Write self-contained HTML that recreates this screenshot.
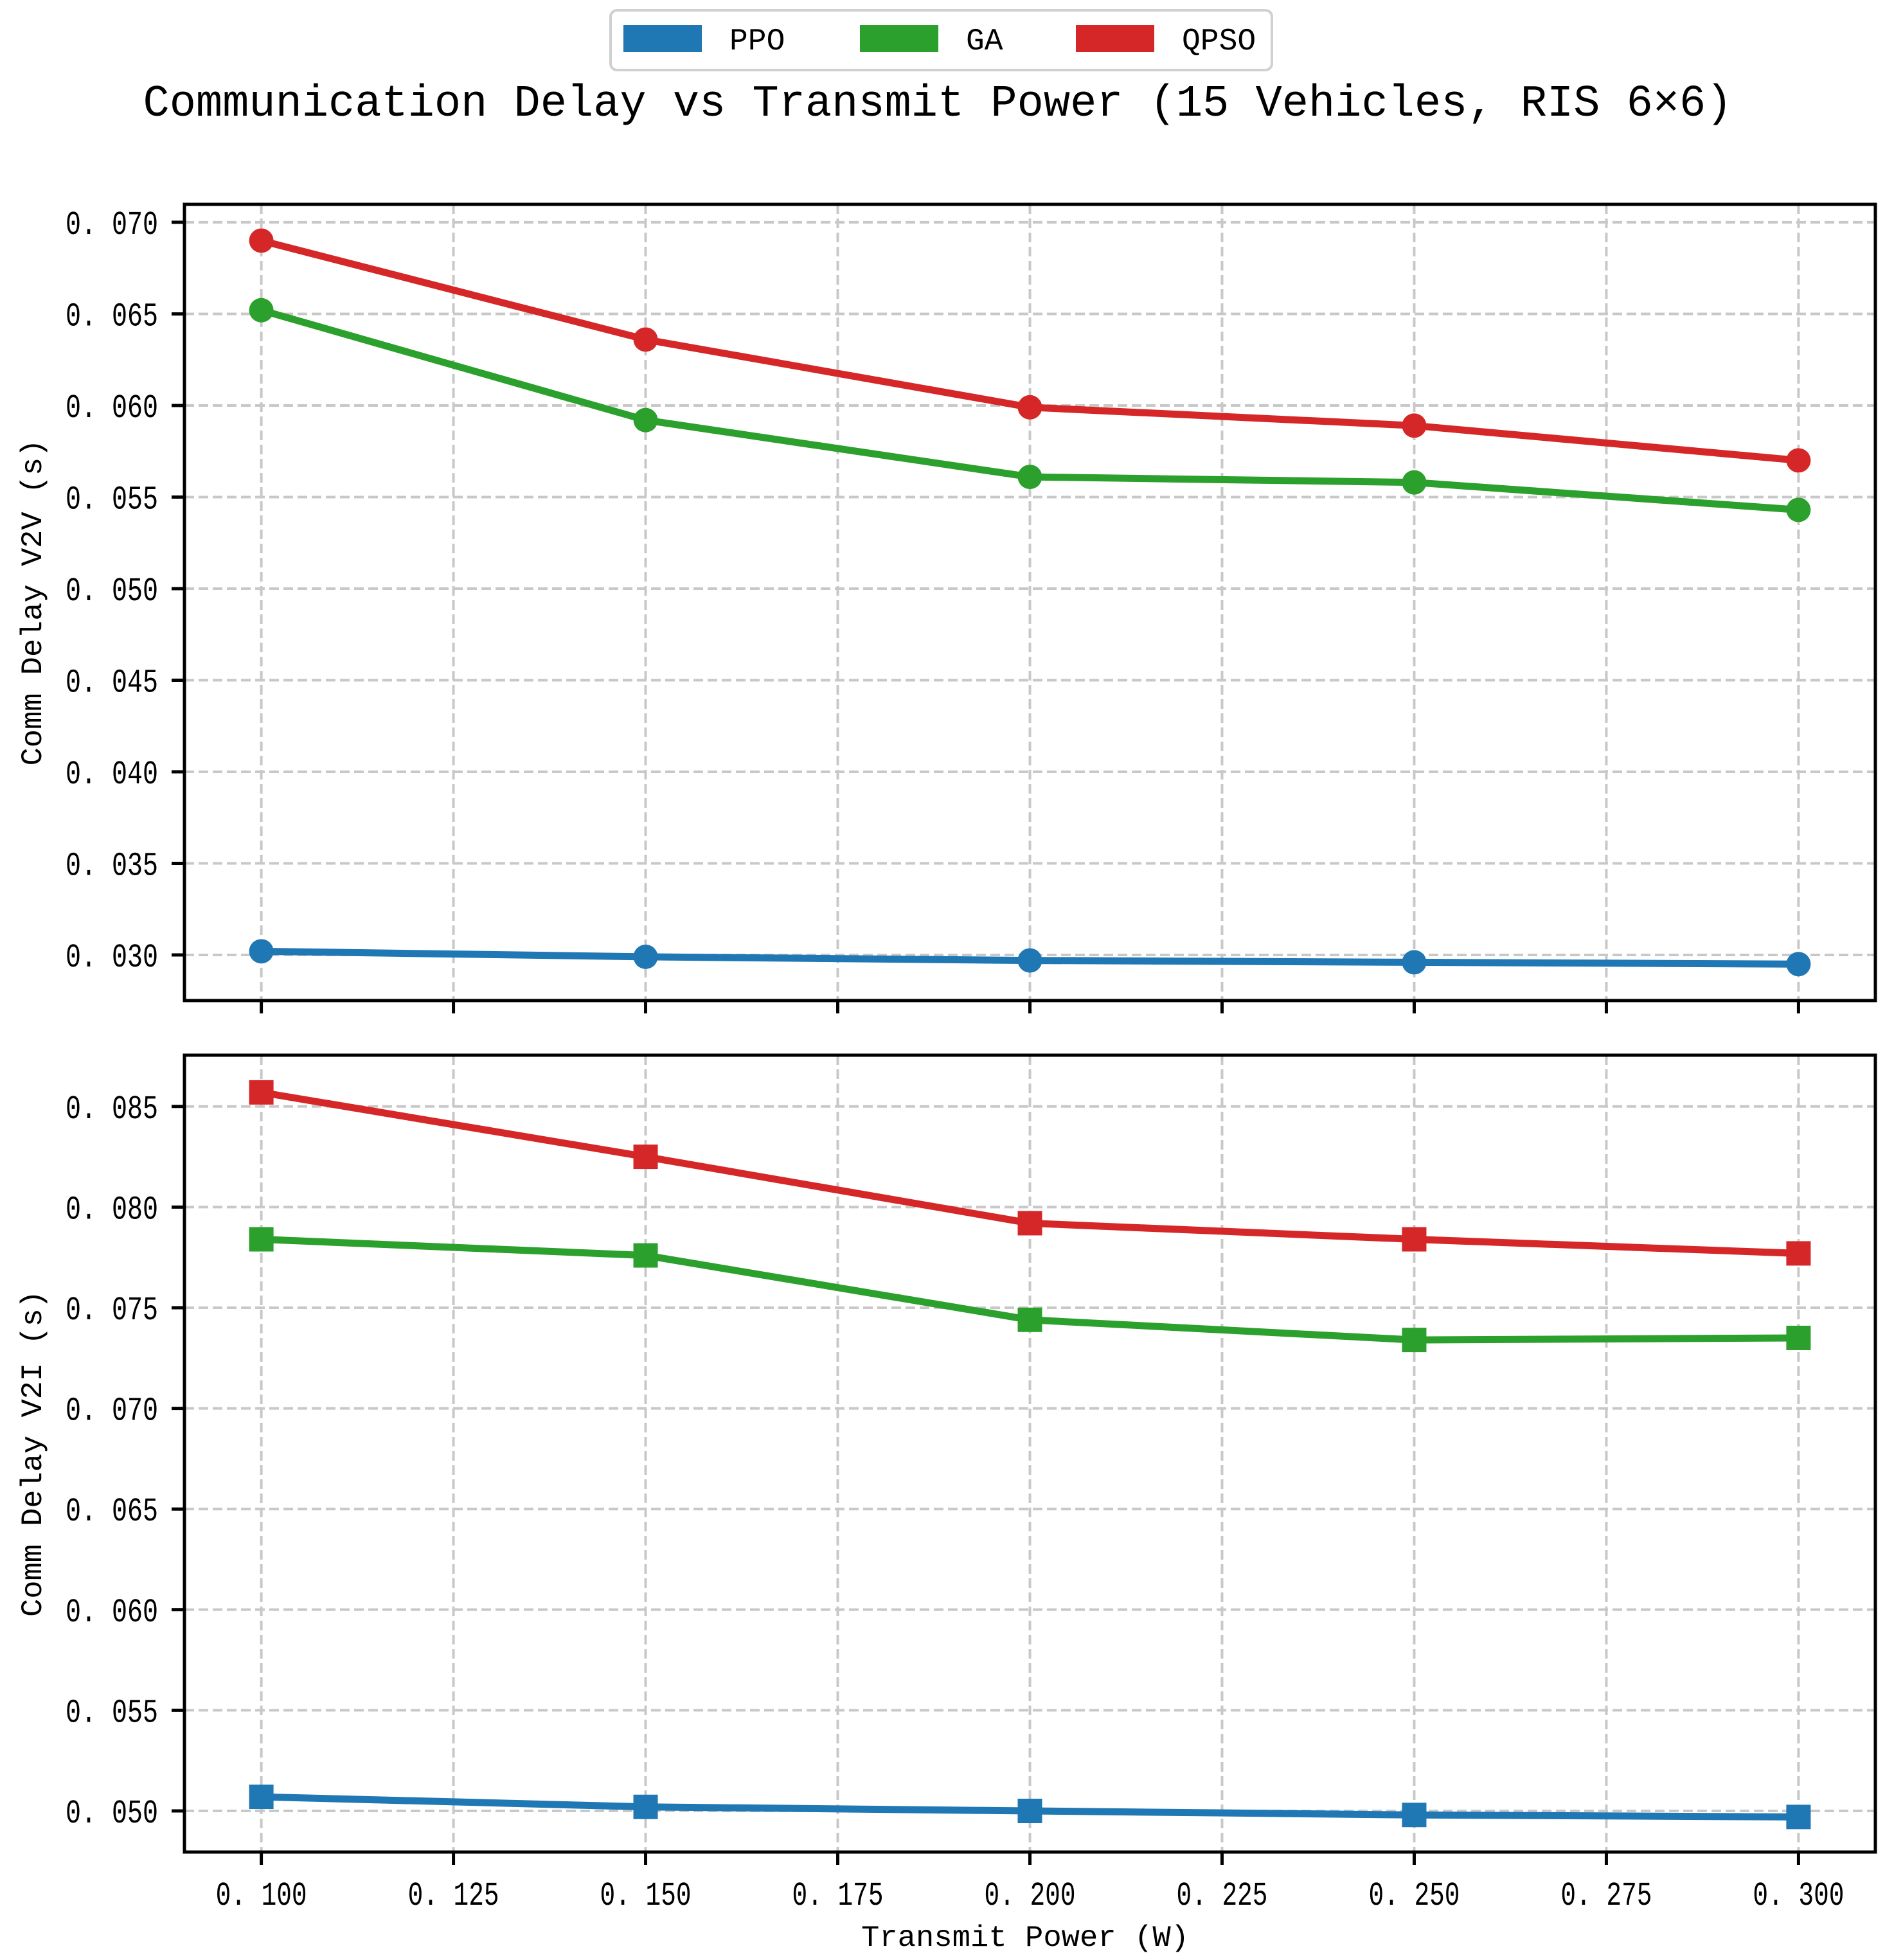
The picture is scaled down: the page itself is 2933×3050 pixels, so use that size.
<!DOCTYPE html>
<html><head><meta charset="utf-8"><style>
html,body{margin:0;padding:0;background:#fff}
svg{display:block}
text{font-family:"Liberation Mono","Noto Sans CJK SC",monospace;fill:#000}
</style></head><body>
<svg id="chart" width="2933" height="3050" viewBox="0 0 2933 3050" xmlns="http://www.w3.org/2000/svg"></svg>
<script>
const xValues=[0.1,0.15,0.2,0.25,0.3];
const xTicks=[0.1,0.125,0.15,0.175,0.2,0.225,0.25,0.275,0.3];
const xTickLabels=["0. 100","0. 125","0. 150","0. 175","0. 200","0. 225","0. 250","0. 275","0. 300"];
const v2vTicks=[0.030,0.035,0.040,0.045,0.050,0.055,0.060,0.065,0.070];
const v2vTickLabels=["0. 030","0. 035","0. 040","0. 045","0. 050","0. 055","0. 060","0. 065","0. 070"];
const v2iTicks=[0.050,0.055,0.060,0.065,0.070,0.075,0.080,0.085];
const v2iTickLabels=["0. 050","0. 055","0. 060","0. 065","0. 070","0. 075","0. 080","0. 085"];
const v2vPPO=[0.0302,0.0299,0.0297,0.0296,0.0295];
const v2vGA=[0.0652,0.0592,0.0561,0.0558,0.0543];
const v2vQPSO=[0.0690,0.0636,0.0599,0.0589,0.0570];
const v2iPPO=[0.0507,0.0502,0.0500,0.0498,0.0497];
const v2iGA=[0.0784,0.0776,0.0744,0.0734,0.0735];
const v2iQPSO=[0.0857,0.0825,0.0792,0.0784,0.0777];
const seriesNames=["PPO","GA","QPSO"];
const colors={PPO:"#1f77b4",GA:"#2ca02c",QPSO:"#d62728"};

const NS="http://www.w3.org/2000/svg";
const svg=document.getElementById('chart');
function mk(tag,attrs,parent){const e=document.createElementNS(NS,tag);for(const k in attrs)e.setAttribute(k,attrs[k]);(parent||svg).appendChild(e);return e;}

const L=287,R=2918;
const xMin=0.09,xMax=0.31;
function xs(v){return L+(v-xMin)/(xMax-xMin)*(R-L);}

function panel(name,top,bottom,yMin,yMax,ticks,tickLabels,data,marker,ylabel,showXLabels){
  const ys=v=>bottom-(v-yMin)/(yMax-yMin)*(bottom-top);
  const g=mk('g',{});
  
  
  xTicks.forEach((t,i)=>{
    const l=mk('line',{x1:xs(t),x2:xs(t),y1:top,y2:bottom,stroke:'#c8c8c8','stroke-width':4,'stroke-dasharray':'15 7'},g);
    
    
    const tk=mk('line',{x1:xs(t),x2:xs(t),y1:bottom,y2:bottom+20,stroke:'#000','stroke-width':5},g);
    
    
    if(showXLabels){
      const tx=mk('text',{x:xs(t),y:2964,'text-anchor':'middle','font-size':52,textLength:142,lengthAdjust:'spacingAndGlyphs'},g);
      tx.textContent=xTickLabels[i];
      
      
    }
  });
  ticks.forEach((t,i)=>{
    const y=ys(t);
    const l=mk('line',{x1:L,x2:R,y1:y,y2:y,stroke:'#c8c8c8','stroke-width':4,'stroke-dasharray':'15 7'},g);
    
    
    const tk=mk('line',{x1:L-20,x2:L,y1:y,y2:y,stroke:'#000','stroke-width':5},g);
    
    
    const tx=mk('text',{x:246,y:y+18,'text-anchor':'end','font-size':52,textLength:144,lengthAdjust:'spacingAndGlyphs'},g);
    tx.textContent=tickLabels[i];
    
    
  });
  seriesNames.forEach(s=>{
    const vals=data[s];
    const pts=vals.map((v,i)=>xs(xValues[i])+','+ys(v)).join(' ');
    const pl=mk('polyline',{points:pts,fill:'none',stroke:colors[s],'stroke-width':11,'stroke-linejoin':'round'},g);
    
    
    vals.forEach((v,i)=>{
      let m;
      if(marker==='circle'){
        m=mk('circle',{cx:xs(xValues[i]),cy:ys(v),r:19,fill:colors[s]},g);
      }else{
        m=mk('rect',{x:xs(xValues[i])-19,y:ys(v)-19,width:38,height:38,fill:colors[s]},g);
      }
      
      
    });
  });
  const fr=mk('rect',{x:L,y:top,width:R-L,height:bottom-top,fill:'none',stroke:'#000','stroke-width':5},g);
  
  
  const cy=(top+bottom)/2;
  const yl=mk('text',{x:0,y:0,'text-anchor':'middle','font-size':46,textLength:508,lengthAdjust:'spacingAndGlyphs',transform:`translate(64,${cy}) rotate(-90)`},g);
  yl.textContent=ylabel;
  
  
}

panel('v2v',318,1557,0.02751,0.07098,v2vTicks,v2vTickLabels,{PPO:v2vPPO,GA:v2vGA,QPSO:v2vQPSO},'circle','Comm Delay V2V (s)',false);
const bTop=1642,bBot=2882,y050=2818,step=156.6;
panel('v2i',bTop,bBot,0.050-(bBot-y050)/step*0.005,0.050+(y050-bTop)/step*0.005,v2iTicks,v2iTickLabels,{PPO:v2iPPO,GA:v2iGA,QPSO:v2iQPSO},'square','Comm Delay V2I (s)',true);

const xl=mk('text',{x:1595,y:3028,'text-anchor':'middle','font-size':46,textLength:510,lengthAdjust:'spacingAndGlyphs'});
xl.textContent='Transmit Power (W)';



const title=mk('text',{x:1459,y:180,'text-anchor':'middle','font-size':70,textLength:2473,lengthAdjust:'spacingAndGlyphs'});
title.textContent='Communication Delay vs Transmit Power (15 Vehicles, RIS 6×6)';



const lg=mk('g',{});


const lb=mk('rect',{x:950,y:16,width:1029,height:93,rx:10,fill:'#fff',stroke:'#d0d0d0','stroke-width':4},lg);


const patchX=[970,1338,1674],labelX=[1135,1503,1839];
seriesNames.forEach((s,i)=>{
  const p=mk('rect',{x:patchX[i],y:39,width:122,height:42,fill:colors[s]},lg);
  
  
  const t=mk('text',{x:labelX[i],y:77,'font-size':48},lg);
  t.textContent=s;
  
  
});
</script>
</body></html>
